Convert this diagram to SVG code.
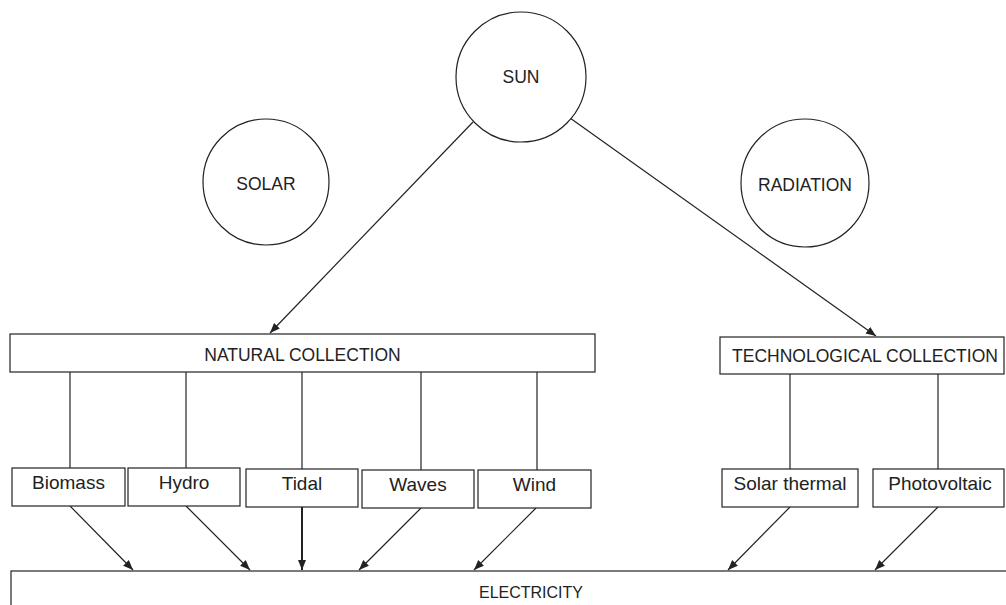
<svg xmlns="http://www.w3.org/2000/svg" width="1006" height="605" viewBox="0 0 1006 605">
<style>
.n{fill:#fff;stroke:#222;stroke-width:1.2}
.t{font-family:"Liberation Sans",Arial,sans-serif;fill:#222;text-anchor:middle}
.u{font-size:17.5px}
.l{font-size:19px}
.c{stroke:#222;stroke-width:1.2;fill:none}
.a{marker-end:url(#ah)}
</style>
<defs>
<marker id="ah" markerUnits="userSpaceOnUse" markerWidth="11" markerHeight="9" refX="10" refY="4" orient="auto">
<path d="M0,0 L10,4 L0,8 z" fill="#222"/>
</marker>
</defs>
<rect width="1006" height="605" fill="#fff"/>
<g id="connectors">
<line class="c a" x1="473" y1="122" x2="270" y2="333"/>
<line class="c a" x1="570" y1="118" x2="876" y2="336"/>
<line class="c" x1="70" y1="372" x2="70" y2="468"/>
<line class="c" x1="186" y1="372" x2="186" y2="468"/>
<line class="c" x1="302" y1="372" x2="302" y2="469"/>
<line class="c" x1="421" y1="372" x2="421" y2="470"/>
<line class="c" x1="537" y1="372" x2="537" y2="470"/>
<line class="c" x1="790" y1="374" x2="790" y2="469"/>
<line class="c" x1="938" y1="374" x2="938" y2="469"/>
<line class="c a" x1="70" y1="506" x2="133" y2="570"/>
<line class="c a" x1="186" y1="506" x2="250" y2="570"/>
<line class="c a" x1="302" y1="507" x2="302" y2="570" style="stroke-width:2"/>
<line class="c a" x1="421" y1="508" x2="359" y2="570"/>
<line class="c a" x1="536" y1="508" x2="474" y2="570"/>
<line class="c a" x1="790" y1="507" x2="728" y2="570"/>
<line class="c a" x1="938" y1="507" x2="875" y2="570"/>
</g>
<g id="sun"><circle class="n" cx="521" cy="77" r="65"/><text class="t u" x="521" y="83">SUN</text></g>
<g id="solar"><circle class="n" cx="266" cy="182" r="63"/><text class="t u" x="266" y="190">SOLAR</text></g>
<g id="radiation"><circle class="n" cx="805" cy="183" r="64"/><text class="t u" x="805" y="191">RADIATION</text></g>
<g id="natural"><rect class="n" x="10" y="334" width="585" height="38"/><text class="t u" x="302.5" y="361">NATURAL COLLECTION</text></g>
<g id="technological"><rect class="n" x="720" y="337" width="284" height="37"/><text class="t u" x="865" y="362">TECHNOLOGICAL COLLECTION</text></g>
<g id="biomass"><rect class="n" x="12" y="468" width="113" height="38"/><text class="t l" x="68.5" y="489">Biomass</text></g>
<g id="hydro"><rect class="n" x="128" y="468" width="112" height="38"/><text class="t l" x="184" y="489">Hydro</text></g>
<g id="tidal"><rect class="n" x="246" y="469" width="112" height="38"/><text class="t l" x="302" y="490">Tidal</text></g>
<g id="waves"><rect class="n" x="362" y="470" width="112" height="38"/><text class="t l" x="418" y="491">Waves</text></g>
<g id="wind"><rect class="n" x="478" y="470" width="113" height="38"/><text class="t l" x="534.5" y="491">Wind</text></g>
<g id="solarthermal"><rect class="n" x="722" y="469" width="136" height="38"/><text class="t l" x="790" y="490">Solar thermal</text></g>
<g id="photovoltaic"><rect class="n" x="873" y="469" width="131" height="38"/><text class="t l" x="940" y="490">Photovoltaic</text></g>
<g id="electricity"><rect class="n" x="11" y="571" width="1000" height="50"/><text class="t" style="font-size:16px" x="531" y="598">ELECTRICITY</text></g>
</svg>
